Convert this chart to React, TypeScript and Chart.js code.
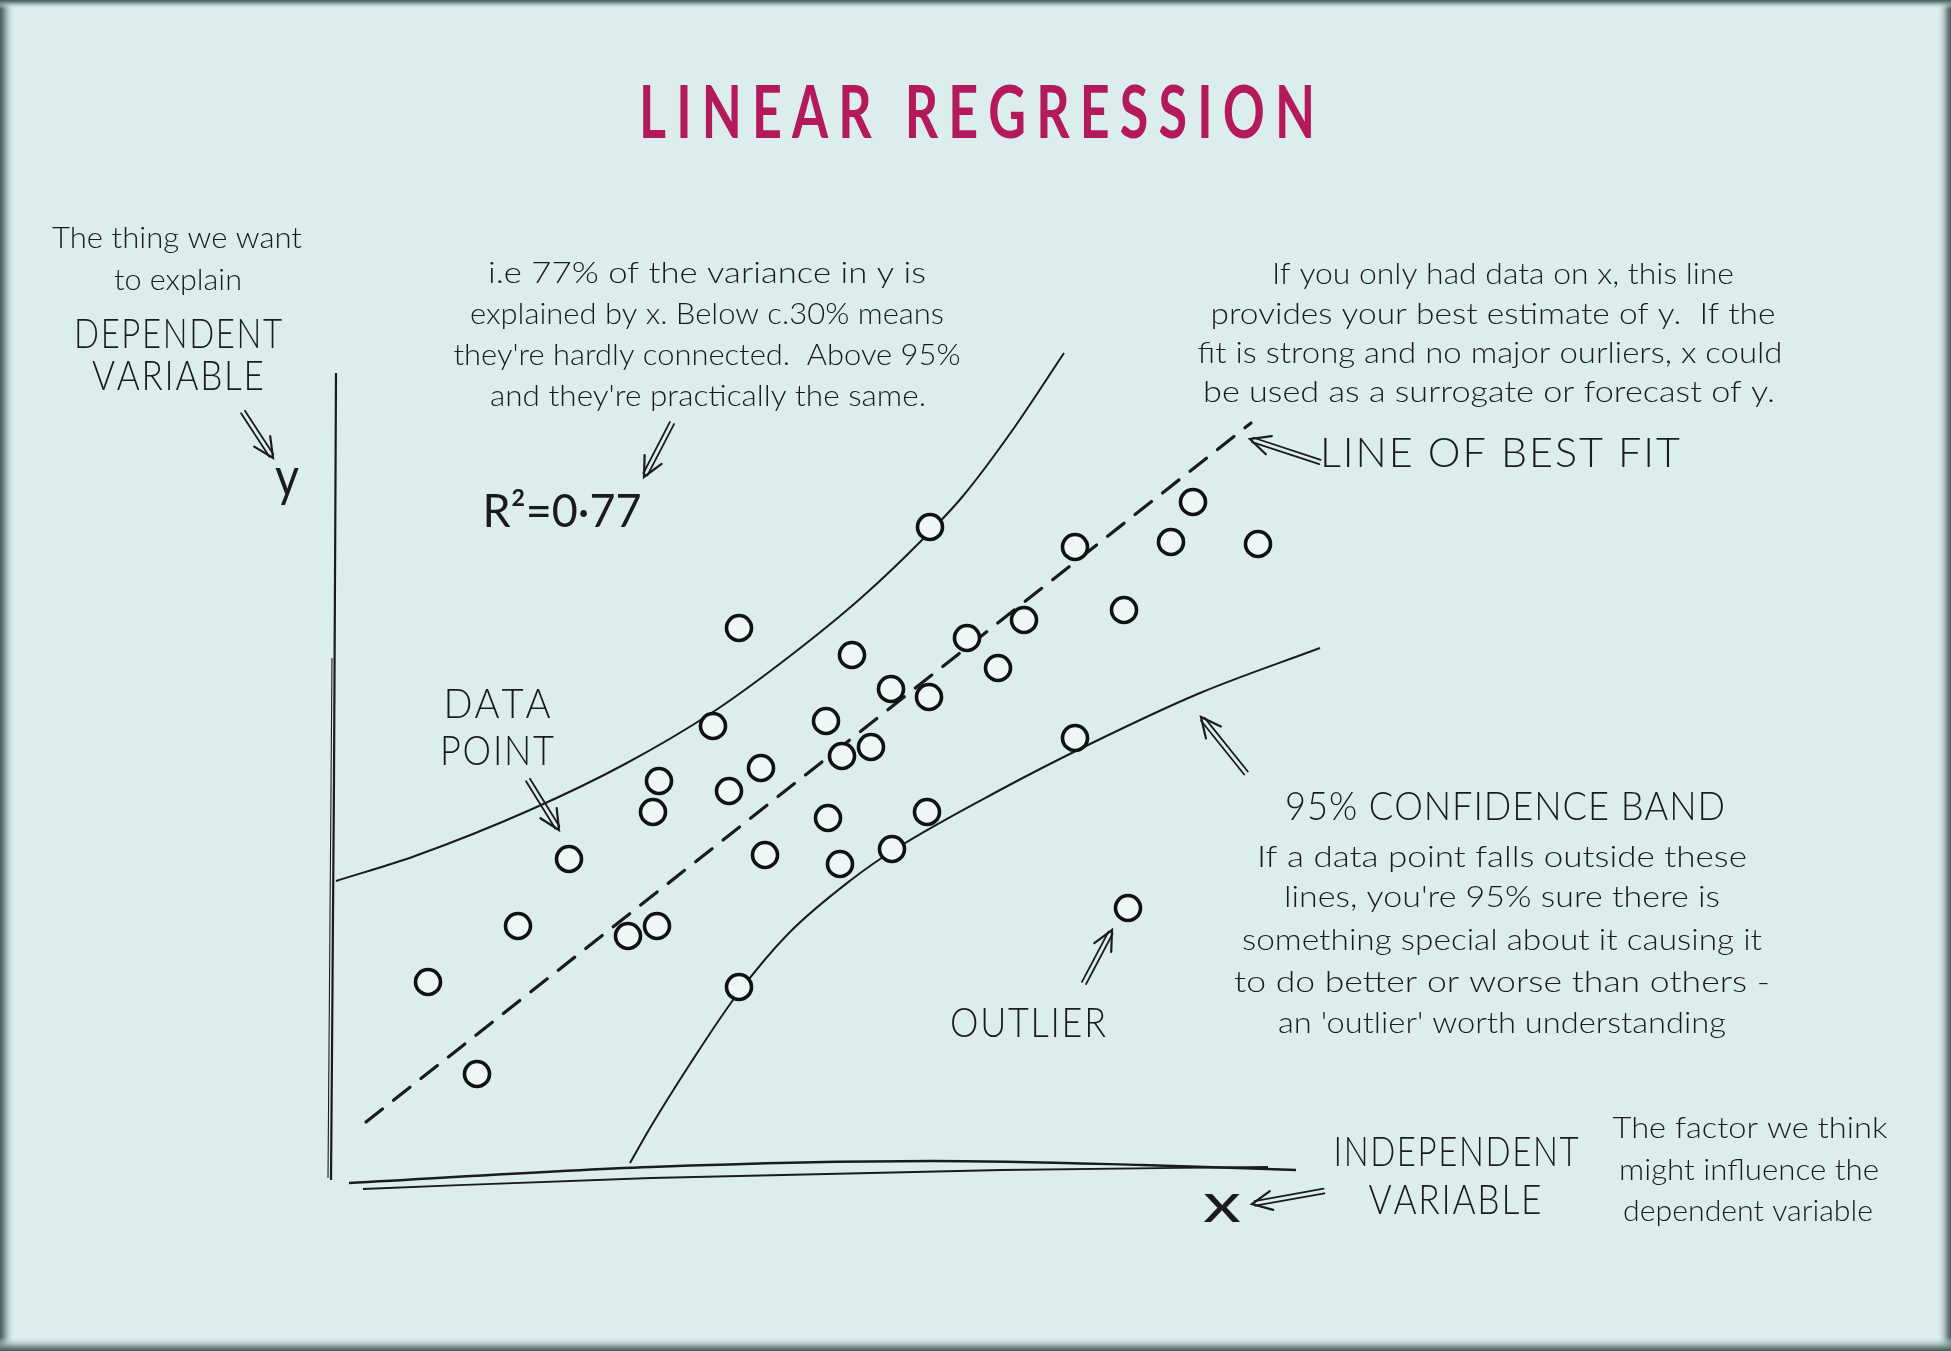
import React, { useEffect, useRef } from 'react';
import { Chart, registerables } from 'chart.js';
Chart.register(...registerables);

const W = 1951;
const H = 1351;

// ---- data (axis units: x 0..10, y 0..8) ----
const pointX = [0.95, 1.44, 1.85, 2.36, 2.95, 3.24, 3.20, 3.26, 3.80, 3.96, 4.06, 4.06, 4.28, 4.32, 4.93, 4.95, 5.07, 5.09, 5.19, 5.38, 5.58, 5.59, 5.94, 5.96, 5.97, 6.34, 6.65, 6.91, 7.42, 7.42, 7.91, 7.95, 8.38, 8.60, 9.25];
const pointY = [1.96, 1.04, 2.52, 3.19, 2.42, 2.52, 3.66, 3.97, 4.52, 3.87, 5.50, 1.91, 4.10, 3.23, 4.57, 3.60, 3.14, 4.22, 5.23, 4.31, 4.89, 3.29, 3.66, 4.81, 6.51, 5.40, 5.10, 5.58, 6.31, 4.40, 5.68, 2.70, 6.36, 6.76, 6.34];

const fitX = [0.33, 9.18];
const fitY = [0.56, 7.55];

const upperBandX = [0.03, 0.82, 1.97, 2.92, 3.80, 4.57, 5.28, 5.89, 6.30, 6.81, 7.31];
const upperBandY = [2.97, 3.22, 3.68, 4.14, 4.66, 5.22, 5.80, 6.38, 6.82, 7.50, 8.25];

const lowerBandX = [2.97, 3.17, 3.57, 4.03, 4.55, 5.18, 5.64, 6.67, 7.57, 8.67, 9.87];
const lowerBandY = [0.15, 0.50, 1.14, 1.82, 2.44, 2.98, 3.30, 3.88, 4.34, 4.85, 5.30];

const yAxisX = [0.03, 0.01, -0.02];
const yAxisY = [8.05, 4.0, -0.02];
const yAxis2X = [-0.01, -0.05];
const yAxis2Y = [5.2, 0.0];

const xAxisX = [0.16, 3.18, 5.99, 8.09, 9.63];
const xAxisY = [-0.05, 0.11, 0.17, 0.13, 0.08];
const xAxis2X = [0.30, 3.18, 6.69, 9.35];
const xAxis2Y = [-0.11, 0.0, 0.08, 0.11];

const zip = (xs: number[], ys: number[]) => xs.map((x, i) => ({ x, y: ys[i] }));

// ---- annotation layout (pixels) ----
const INK = '#1b1b1b';
const BODY = 29;
const CAPS = 41;
type Label = { t: string; cx: number; y: number; w: number; size: number; weight?: string; color?: string; sp?: number };
const LABELS: Label[] = [
  { t: 'LINEAR REGRESSION', cx: 977, y: 138, w: 676, size: 72, weight: '700', color: '#b3195b', sp: 14 },
  { t: 'The thing we want', cx: 177, y: 248, w: 250, size: BODY },
  { t: 'to explain', cx: 178, y: 290, w: 128, size: BODY },
  { t: 'DEPENDENT', cx: 178, y: 348, w: 208, size: CAPS, sp: 2 },
  { t: 'VARIABLE', cx: 178, y: 390, w: 172, size: CAPS, sp: 2 },
  { t: 'y', cx: 287, y: 496, w: 24, size: 55, weight: '400' },
  { t: 'i.e 77% of the variance in y is', cx: 707, y: 283, w: 438, size: BODY },
  { t: 'explained by x. Below c.30% means', cx: 707, y: 324, w: 474, size: BODY },
  { t: "they're hardly connected.  Above 95%", cx: 707, y: 365, w: 507, size: BODY },
  { t: "and they're practically the same.", cx: 708, y: 406, w: 436, size: BODY },
  { t: 'R²=0·77', cx: 562, y: 527, w: 159, size: 46, weight: '400' },
  { t: 'If you only had data on x, this line', cx: 1503, y: 284, w: 462, size: BODY },
  { t: 'provides your best estimate of y.  If the', cx: 1493, y: 324, w: 565, size: BODY },
  { t: 'fit is strong and no major ourliers, x could', cx: 1490, y: 363, w: 585, size: BODY },
  { t: 'be used as a surrogate or forecast of y.', cx: 1489, y: 402, w: 572, size: BODY },
  { t: 'LINE OF BEST FIT', cx: 1500, y: 467, w: 360, size: 42, sp: 2 },
  { t: 'DATA', cx: 497, y: 718, w: 107, size: CAPS, sp: 2 },
  { t: 'POINT', cx: 497, y: 765, w: 114, size: CAPS, sp: 2 },
  { t: 'OUTLIER', cx: 1028, y: 1037, w: 156, size: CAPS, sp: 2 },
  { t: '95% CONFIDENCE BAND', cx: 1505, y: 820, w: 440, size: 39, sp: 1 },
  { t: 'If a data point falls outside these', cx: 1502, y: 867, w: 490, size: BODY },
  { t: "lines, you're 95% sure there is", cx: 1502, y: 907, w: 436, size: BODY },
  { t: 'something special about it causing it', cx: 1502, y: 950, w: 520, size: BODY },
  { t: 'to do better or worse than others -', cx: 1502, y: 992, w: 536, size: BODY },
  { t: "an 'outlier' worth understanding", cx: 1502, y: 1033, w: 448, size: BODY },
  { t: 'INDEPENDENT', cx: 1456, y: 1166, w: 245, size: CAPS, sp: 2 },
  { t: 'VARIABLE', cx: 1455, y: 1214, w: 173, size: CAPS, sp: 2 },
  { t: 'x', cx: 1222, y: 1222, w: 38, size: 55, weight: '400' },
  { t: 'The factor we think', cx: 1750, y: 1138, w: 275, size: BODY },
  { t: 'might influence the', cx: 1749, y: 1180, w: 260, size: BODY },
  { t: 'dependent variable', cx: 1748, y: 1221, w: 250, size: BODY },
];

// arrows: [tailX, tailY, tipX, tipY]
const ARROWS: number[][] = [
  [243, 412, 273, 458],
  [672, 423, 644, 477],
  [528, 780, 559, 830],
  [1320, 462, 1250, 439],
  [1246, 773, 1201, 717],
  [1084, 983, 1112, 930],
  [1324, 1191, 1252, 1204],
];

const FONT = 'Lato, "Open Sans", "DejaVu Sans", sans-serif';

function drawLabel(ctx: CanvasRenderingContext2D, l: Label) {
  ctx.save();
  ctx.font = `${l.weight || '300'} ${l.size}px ${FONT}`;
  ctx.fillStyle = l.color || INK;
  ctx.textAlign = 'left';
  ctx.textBaseline = 'alphabetic';
  const sp = l.sp || 0;
  const chars = Array.from(l.t);
  const widths = chars.map((c) => ctx.measureText(c).width);
  const natural = sp ? widths.reduce((a, b) => a + b, 0) + sp * (chars.length - 1) : ctx.measureText(l.t).width;
  const sx = natural > 0 ? l.w / natural : 1;
  ctx.translate(l.cx - l.w / 2, l.y);
  ctx.scale(sx, 1);
  if (!sp) {
    ctx.fillText(l.t, 0, 0);
  } else {
    let x = 0;
    chars.forEach((c, i) => {
      ctx.fillText(c, x, 0);
      x += widths[i] + sp;
    });
  }
  ctx.restore();
}

function drawArrow(ctx: CanvasRenderingContext2D, a: number[]) {
  const [x1, y1, x2, y2] = a;
  const ang = Math.atan2(y2 - y1, x2 - x1);
  const nx = -Math.sin(ang);
  const ny = Math.cos(ang);
  ctx.save();
  ctx.strokeStyle = INK;
  ctx.lineWidth = 1.8;
  ctx.lineCap = 'round';
  for (const s of [-1, 1]) {
    ctx.beginPath();
    ctx.moveTo(x1 + nx * 2.3 * s, y1 + ny * 2.3 * s);
    ctx.lineTo(x2 + nx * 2.3 * s - Math.cos(ang) * 3, y2 + ny * 2.3 * s - Math.sin(ang) * 3);
    ctx.stroke();
  }
  const hl = 22;
  const ha = 0.45;
  ctx.lineWidth = 2.2;
  ctx.beginPath();
  ctx.moveTo(x2 - hl * Math.cos(ang - ha), y2 - hl * Math.sin(ang - ha));
  ctx.lineTo(x2, y2);
  ctx.lineTo(x2 - hl * Math.cos(ang + ha), y2 - hl * Math.sin(ang + ha));
  ctx.stroke();
  ctx.restore();
}

const BG = '#dcedee';

const backgroundPlugin = {
  id: 'paper',
  beforeDraw(chart: any) {
    const ctx = chart.ctx as CanvasRenderingContext2D;
    ctx.save();
    ctx.fillStyle = BG;
    ctx.fillRect(0, 0, W, H);
    ctx.restore();
  },
  afterDraw(chart: any) {
    const ctx = chart.ctx as CanvasRenderingContext2D;
    for (const l of LABELS) drawLabel(ctx, l);
    for (const a of ARROWS) drawArrow(ctx, a);
    // frame
    ctx.save();
    const edge = (x0: number, y0: number, x1: number, y1: number, rx: number, ry: number, rw: number, rh: number) => {
      const g = ctx.createLinearGradient(x0, y0, x1, y1);
      g.addColorStop(0, 'rgba(70,88,88,1)');
      g.addColorStop(0.25, 'rgba(110,130,130,0.95)');
      g.addColorStop(0.6, 'rgba(170,190,190,0.6)');
      g.addColorStop(1, 'rgba(220,237,238,0)');
      ctx.fillStyle = g;
      ctx.fillRect(rx, ry, rw, rh);
    };
    edge(0, 0, 15, 0, 0, 0, 15, H);
    edge(W, 0, W - 14, 0, W - 14, 0, 14, H);
    edge(0, 0, 0, 9, 0, 0, W, 9);
    edge(0, H, 0, H - 14, 0, H - 14, W, 14);
    ctx.restore();
  },
};

const lineDs = (xs: number[], ys: number[], width: number, extra: any = {}) => ({
  type: 'line' as const,
  data: zip(xs, ys),
  borderColor: INK,
  borderWidth: width,
  pointRadius: 0,
  fill: false,
  showLine: true,
  clip: false,
  cubicInterpolationMode: 'monotone' as const,
  ...extra,
});

export default function App() {
  const ref = useRef<HTMLCanvasElement>(null);
  useEffect(() => {
    document.body.style.margin = '0';
    document.body.style.overflow = 'hidden';
    const canvas = ref.current!;
    const chart = new Chart(canvas, {
      type: 'scatter',
      data: {
        datasets: [
          {
            type: 'scatter',
            data: zip(pointX, pointY),
            pointRadius: 12.5,
            pointBorderWidth: 3.6,
            pointBackgroundColor: '#eef6f6',
            pointBorderColor: '#111',
            clip: false,
          } as any,
          lineDs(fitX, fitY, 3.2, { borderDash: [21, 14], borderCapStyle: 'round' }),
          lineDs(upperBandX, upperBandY, 2),
          lineDs(lowerBandX, lowerBandY, 2),
          lineDs(yAxisX, yAxisY, 2.2),
          lineDs(yAxis2X, yAxis2Y, 1.1),
          lineDs(xAxisX, xAxisY, 2.4),
          lineDs(xAxis2X, xAxis2Y, 1.8),
        ] as any,
      },
      options: {
        animation: false,
        responsive: false,
        devicePixelRatio: 1,
        events: [],
        layout: { padding: { left: 333, right: 618, top: 378, bottom: 173 } },
        scales: {
          x: { type: 'linear', min: 0, max: 10, display: false },
          y: { type: 'linear', min: 0, max: 8, display: false },
        },
        plugins: { legend: { display: false }, tooltip: { enabled: false }, title: { display: false } },
      },
      plugins: [backgroundPlugin],
    } as any);
    if ((document as any).fonts) {
      Promise.all([
        document.fonts.load(`300 29px Lato`),
        document.fonts.load(`700 74px Lato`),
      ]).then(() => chart.draw()).catch(() => {});
    }
    return () => chart.destroy();
  }, []);
  return <canvas ref={ref} width={W} height={H} style={{ display: 'block', width: W, height: H }} />;
}
